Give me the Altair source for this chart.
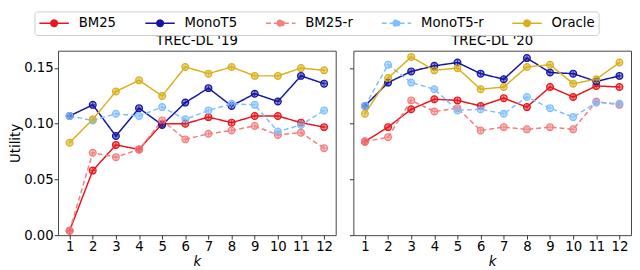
import altair as alt
import pandas as pd

k_values = list(range(1, 13))
methods = ["BM25", "MonoT5", "BM25-r", "MonoT5-r", "Oracle"]
colors = ["#e8161b", "#1515a3", "#f47f7f", "#7fbfff", "#d9b01c"]
dashes = [[1, 0], [1, 0], [5, 3], [5, 3], [1, 0]]
datasets = ["TREC-DL '19", "TREC-DL '20"]

dl19_bm25 = [0.004, 0.058, 0.081, 0.077, 0.100, 0.100, 0.106, 0.101, 0.107, 0.107, 0.101, 0.097]
dl19_monot5 = [0.107, 0.117, 0.089, 0.114, 0.099, 0.119, 0.132, 0.116, 0.127, 0.120, 0.143, 0.136]
dl19_bm25_r = [0.004, 0.074, 0.070, 0.077, 0.103, 0.086, 0.091, 0.094, 0.098, 0.090, 0.092, 0.078]
dl19_monot5_r = [0.107, 0.103, 0.109, 0.107, 0.115, 0.104, 0.112, 0.118, 0.117, 0.093, 0.099, 0.112]
dl19_oracle = [0.083, 0.104, 0.129, 0.139, 0.125, 0.151, 0.145, 0.151, 0.143, 0.143, 0.150, 0.148]

dl20_bm25 = [0.084, 0.097, 0.113, 0.122, 0.121, 0.116, 0.123, 0.115, 0.133, 0.124, 0.134, 0.133]
dl20_monot5 = [0.116, 0.137, 0.147, 0.152, 0.155, 0.145, 0.140, 0.159, 0.146, 0.145, 0.138, 0.143]
dl20_bm25_r = [0.084, 0.088, 0.121, 0.111, 0.114, 0.094, 0.097, 0.095, 0.097, 0.095, 0.120, 0.117]
dl20_monot5_r = [0.116, 0.153, 0.137, 0.131, 0.112, 0.113, 0.109, 0.124, 0.114, 0.106, 0.119, 0.118]
dl20_oracle = [0.109, 0.141, 0.160, 0.148, 0.150, 0.131, 0.133, 0.151, 0.153, 0.136, 0.140, 0.155]

series = {
    "TREC-DL '19": [dl19_bm25, dl19_monot5, dl19_bm25_r, dl19_monot5_r, dl19_oracle],
    "TREC-DL '20": [dl20_bm25, dl20_monot5, dl20_bm25_r, dl20_monot5_r, dl20_oracle],
}

rows = []
for ds in datasets:
    for m, vals in zip(methods, series[ds]):
        for k, v in zip(k_values, vals):
            rows.append({"dataset": ds, "Method": m, "k": k, "utility": v})
df = pd.DataFrame(rows)

FONT = "DejaVu Sans"
FS = 13.5
legend_path = ("M-1,0L-0.22,0M0.22,0L1,0"
               "M-0.22,0A0.22,0.22,0,1,1,0.22,0A0.22,0.22,0,1,1,-0.22,0")

legend = alt.Legend(
    title=None, orient="none", direction="horizontal", columns=5,
    legendX=-24, legendY=-40,
    symbolType=legend_path, symbolSize=900, symbolStrokeWidth=1.6,
    clipHeight=16,
    labelFontSize=FS, labelFont=FONT, labelColor="black",
    columnPadding=28, labelOffset=9,
    strokeColor="#cccccc", cornerRadius=3, padding=4,
)


def panel(ds, show_y):
    yaxis = alt.Axis(values=[0, 0.05, 0.10, 0.15], format=".2f",
                     title="Utility" if show_y else None, labels=show_y)
    base = alt.Chart(df).transform_filter(alt.datum.dataset == ds).encode(
        x=alt.X("k:Q", scale=alt.Scale(domain=[0.5, 12.5], nice=False, zero=False),
                axis=alt.Axis(values=k_values, title="k", titleFontStyle="italic")),
        y=alt.Y("utility:Q", scale=alt.Scale(domain=[0, 0.1656], nice=False),
                axis=yaxis),
        color=alt.Color("Method:N", sort=methods,
                        scale=alt.Scale(domain=methods, range=colors), legend=legend),
    )
    line = base.mark_line(strokeWidth=1.5).encode(
        strokeDash=alt.StrokeDash("Method:N", sort=methods,
                                  scale=alt.Scale(domain=methods, range=dashes),
                                  legend=legend)
    )
    pts = base.mark_point(shape="circle", size=48, filled=True,
                          fillOpacity=0.45, strokeWidth=1.2, opacity=1).encode(
        stroke=alt.Color("Method:N", sort=methods,
                         scale=alt.Scale(domain=methods, range=colors), legend=None)
    )
    cross = base.mark_point(shape="M-1,0L1,0M0,-1L0,1", size=30, filled=False,
                            strokeWidth=1.0, opacity=0.8)
    return alt.layer(line, pts, cross).properties(width=283, height=188, title=ds)


chart = alt.hconcat(panel(datasets[0], True), panel(datasets[1], False), spacing=12).properties(
    padding={"left": 0, "right": 0, "top": 0, "bottom": 0}
).configure_view(
    stroke="#444444", strokeWidth=1
).configure_axis(
    grid=False, domain=False, tickColor="#333333", tickSize=4, tickWidth=1,
    labelFont=FONT, labelFontSize=FS, labelColor="black", labelPadding=1,
    titleFont=FONT, titleFontSize=FS, titleColor="black", titleFontWeight="normal",
    titlePadding=1,
).configure_title(
    font=FONT, fontSize=FS, fontWeight="normal", color="black", anchor="middle", offset=3
)

chart.save("out.html", embed_options={"renderer": "svg", "actions": False})
